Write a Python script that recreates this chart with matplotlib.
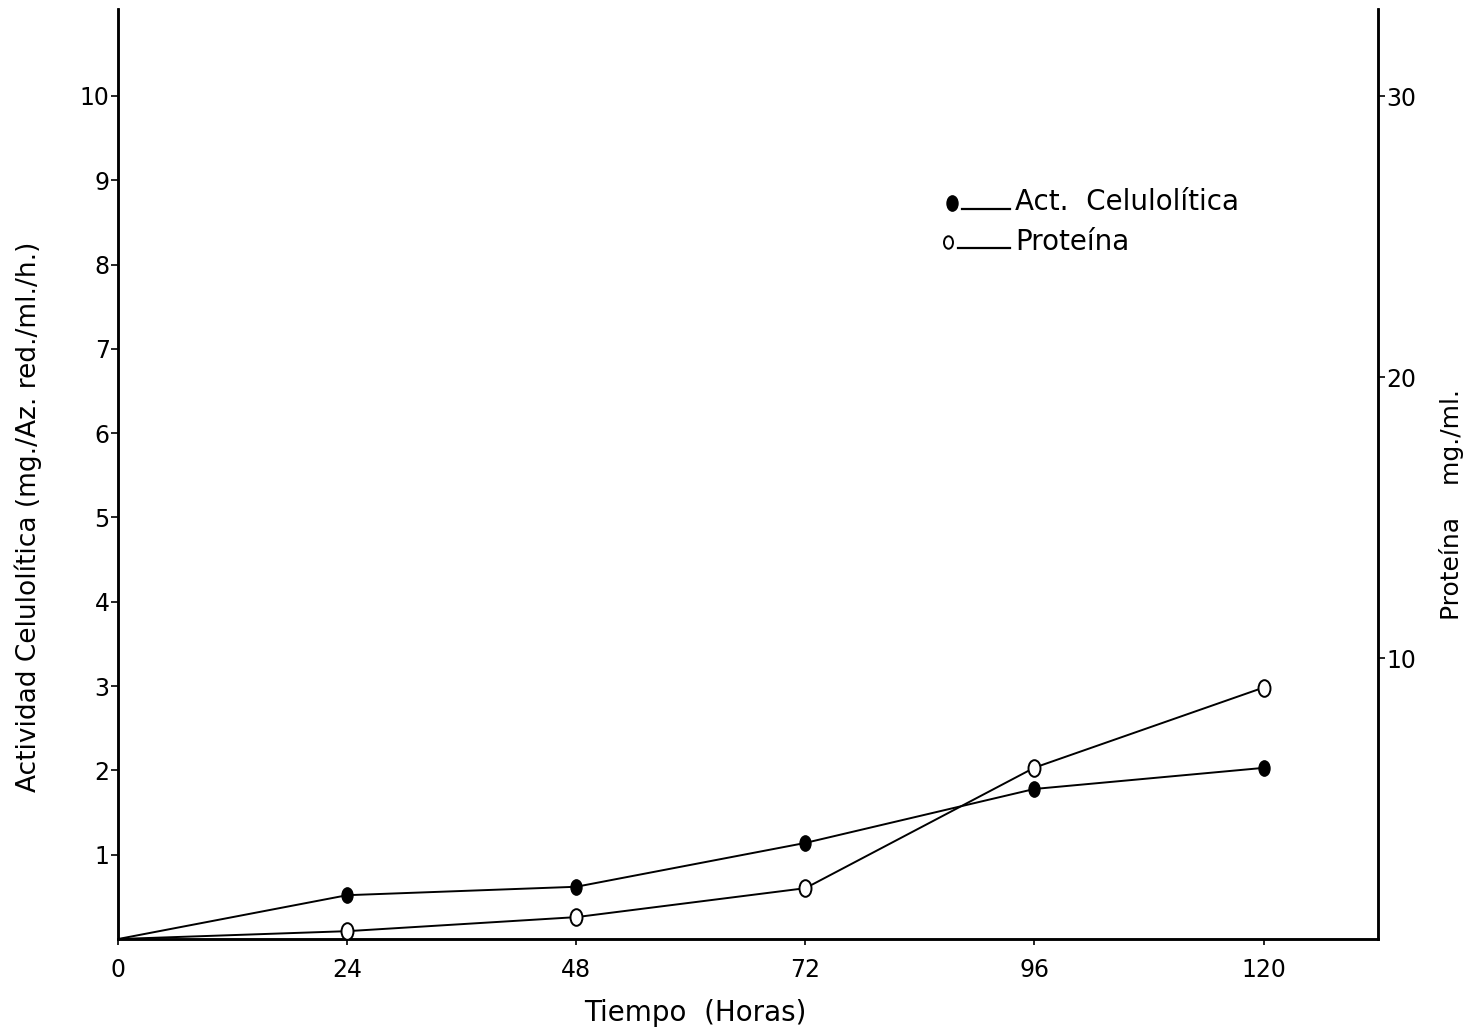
import matplotlib.pyplot as plt
from matplotlib.path import Path
from matplotlib.transforms import Affine2D

# datos
horas = [0, 24, 48, 72, 96, 120]
act_celulolitica = [0, 0.52, 0.62, 1.14, 1.78, 2.03]  # eje izquierdo
proteina = [0, 0.28, 0.78, 1.81, 6.1, 8.95]  # eje derecho mg/ml

x_ticks = [0, 24, 48, 72, 96, 120]
y_ticks = [1, 2, 3, 4, 5, 6, 7, 8, 9, 10]
y2_ticks = [10, 20, 30]

# marcador eliptico, como los dibujados a mano
elipse = Path.unit_circle().transformed(Affine2D().scale(0.72, 1.0))

plt.rcParams['font.family'] = 'DejaVu Sans'
fig = plt.figure(figsize=(14.72, 10.31), dpi=100)
ax = fig.add_axes([0.0802, 0.0892, 0.856, 0.902])
ax2 = ax.twinx()

# sin marcador en el origen
ax.plot(horas, act_celulolitica, color='black', lw=1.4, marker=elipse, markevery=slice(1, None),
        markersize=11, markerfacecolor='black', markeredgecolor='black', zorder=3)
ax2.plot(horas, proteina, color='black', lw=1.4, marker=elipse, markevery=slice(1, None),
         markersize=12, markerfacecolor='white', markeredgecolor='black',
         markeredgewidth=1.4, zorder=3)

ax.set_xlim(0, 132)
ax.set_ylim(0, 11.03)
ax2.set_ylim(0, 33.1)

ax.set_xticks(x_ticks)
ax.set_yticks(y_ticks)
ax2.set_yticks(y2_ticks)
ax.tick_params(axis='y', labelsize=17, length=5, width=1.2, pad=1, direction='out')
ax.tick_params(axis='x', labelsize=17, length=4, width=1.2, pad=10, direction='out')
ax2.tick_params(axis='y', labelsize=17, length=5, width=1.2, pad=1, direction='out')

for a in (ax, ax2):
    a.spines['top'].set_visible(False)
    for s in ('left', 'right', 'bottom'):
        a.spines[s].set_linewidth(1.8)

ax.set_xlabel('Tiempo  (Horas)', fontsize=20)
ax.xaxis.set_label_coords(0.458, -0.064)
ax.set_ylabel('Actividad Celulolítica (mg./Az. red./ml./h.)', fontsize=19)
ax.yaxis.set_label_coords(-0.06, 0.454)
ax2.set_ylabel('Proteína    mg./ml.', fontsize=18)
ax2.yaxis.set_label_coords(1.048, 0.467)

# leyenda dibujada a mano
ax.plot([0.662], [0.791], transform=ax.transAxes, marker=elipse, markersize=11,
        color='black', clip_on=False)
ax.plot([0.670, 0.708], [0.785, 0.785], transform=ax.transAxes, color='black', lw=1.6)
ax.text(0.712, 0.784, 'Act.  Celulolítica', transform=ax.transAxes, fontsize=20,
        va='baseline')
ax.plot([0.659], [0.749], transform=ax.transAxes, marker=elipse, markersize=9,
        markerfacecolor='white', markeredgecolor='black', markeredgewidth=1.4)
ax.plot([0.667, 0.708], [0.743, 0.743], transform=ax.transAxes, color='black', lw=1.6)
ax.text(0.712, 0.741, 'Proteína', transform=ax.transAxes, fontsize=20, va='baseline')

fig.savefig('out.png', dpi=100)
